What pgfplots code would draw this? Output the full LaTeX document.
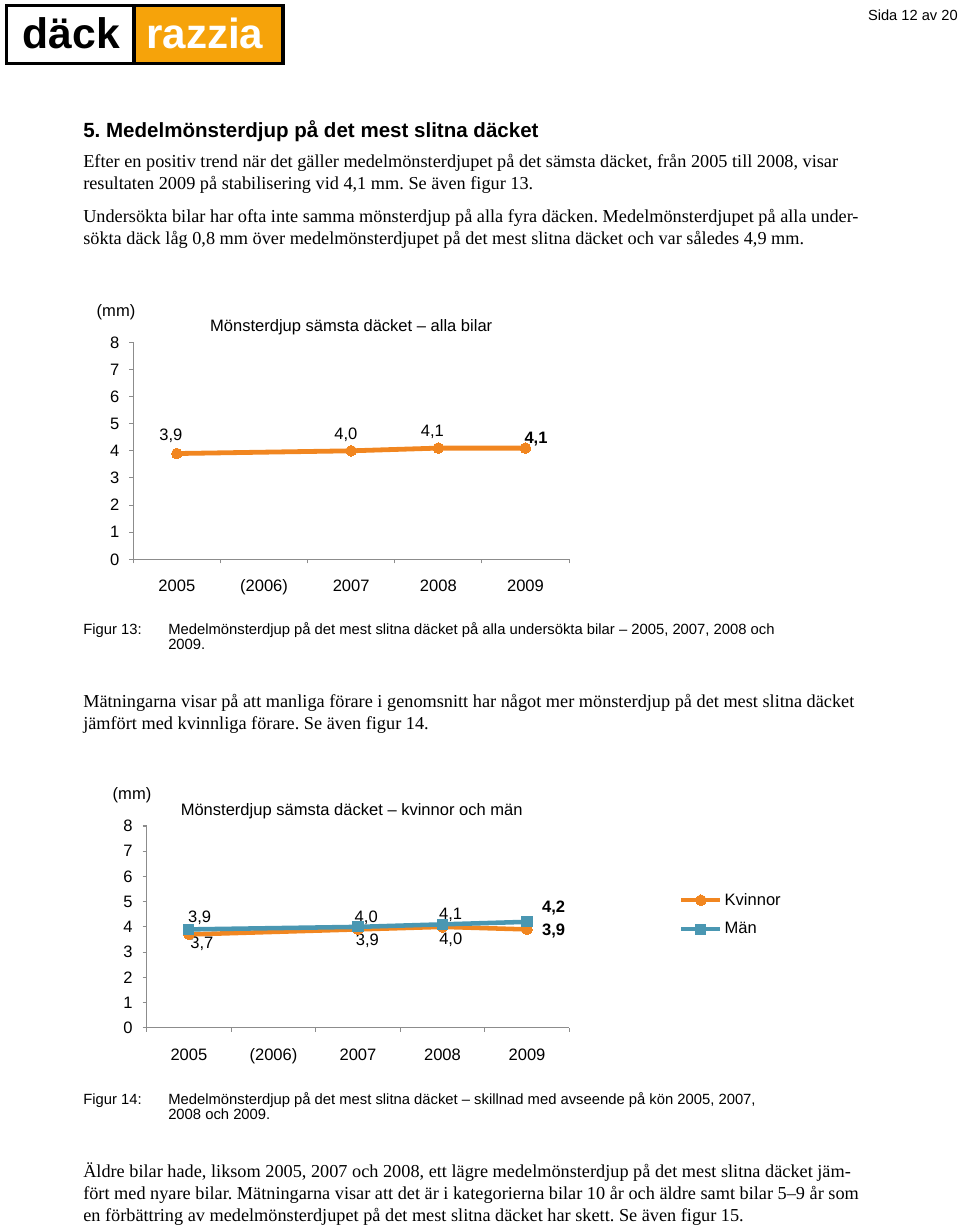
\documentclass[border=0pt]{standalone}
\usepackage{pgfplots}
\pgfplotsset{compat=1.18}
\usepackage{fontspec}
\setmainfont{Liberation Serif}
\newfontfamily\sans{Liberation Sans}
\frenchspacing
\definecolor{lineor}{RGB}{241,134,32}
\definecolor{lineblue}{RGB}{74,151,178}
\definecolor{logoor}{RGB}{246,163,10}
\definecolor{axgray}{RGB}{140,140,140}
\newcommand\chartfont{\sans\fontsize{12.4}{14}\selectfont}
\newcommand\bodyfont{\fontsize{13.7}{16.5}\selectfont}
\newcommand\capfont{\sans\fontsize{11.1}{13}\selectfont}
\pgfplotsset{
  mychart/.style={
    scale only axis,
    xmin=-0.5, xmax=4.5, ymin=0, ymax=8,
    axis x line=bottom, axis y line=left,
    axis line style={-, axgray, line width=0.8pt},
    ytick={0,...,8},
    xtick={-0.5,0.5,...,4.5},
    x tick label as interval,
    xticklabels={2005,(2006),2007,2008,2009},
    tick align=outside,
    major tick length=3pt,
    tick style={axgray, line width=0.8pt},
    ticklabel style={font=\chartfont},
    /pgf/number format/assume math mode=true,
    xticklabel style={anchor=base, yshift=-21.5pt},
    yticklabel style={anchor=center, xshift=-11pt},
    clip=false,
  },
}
\tikzset{lab/.style={font=\chartfont, inner sep=0pt, anchor=center}}
\begin{document}
\begin{tikzpicture}
\begin{scope}[x=0.75pt,y=-0.75pt]
\path[use as bounding box] (0,0) rectangle (960,1225);
% logo
\fill[black] (4.5,3.5) rectangle (285,65);
\fill[white] (8,7) rectangle (131.5,61.5);
\fill[logoor] (135.5,7) rectangle (280.5,61.5);
\node[anchor=base west, inner sep=0pt, font=\sans\bfseries\fontsize{32}{36}\selectfont] at (22.5,48.5) {däck};
\node[anchor=base west, inner sep=0pt, text=white, font=\sans\bfseries\fontsize{31.6}{36}\selectfont] at (146,48.5) {razzia};
\node[anchor=base east, inner sep=0pt, font=\sans\fontsize{11}{13}\selectfont] at (958,20) {Sida 12 av 20};
% heading
\node[anchor=base west, inner sep=0pt, font=\sans\bfseries\fontsize{15.4}{18}\selectfont] at (83,137) {5. Medelmönsterdjup på det mest slitna däcket};
% body text
\begin{scope}[every node/.style={anchor=base west, inner sep=0pt, font=\bodyfont}]
\node at (83,167) {Efter en positiv trend när det gäller medelmönsterdjupet på det sämsta däcket, från 2005 till 2008, visar};
\node at (83,189) {resultaten 2009 på stabilisering vid 4,1 mm. Se även figur 13.};
\node at (83,222) {Undersökta bilar har ofta inte samma mönsterdjup på alla fyra däcken. Medelmönsterdjupet på alla under-};
\node at (83,244) {sökta däck låg 0,8 mm över medelmönsterdjupet på det mest slitna däcket och var således 4,9 mm.};
\node at (83,707) {Mätningarna visar på att manliga förare i genomsnitt har något mer mönsterdjup på det mest slitna däcket};
\node at (83,729) {jämfört med kvinnliga förare. Se även figur 14.};
\node at (83,1177) {Äldre bilar hade, liksom 2005, 2007 och 2008, ett lägre medelmönsterdjup på det mest slitna däcket jäm-};
\node at (83,1199) {fört med nyare bilar. Mätningarna visar att det är i kategorierna bilar 10 år och äldre samt bilar 5–9 år som};
\node at (83,1221) {en förbättring av medelmönsterdjupet på det mest slitna däcket har skett. Se även figur 15.};
\end{scope}
% captions
\begin{scope}[every node/.style={anchor=base west, inner sep=0pt, font=\capfont}]
\node at (83,634) {Figur 13:};
\node at (168,634) {Medelmönsterdjup på det mest slitna däcket på alla undersökta bilar – 2005, 2007, 2008 och};
\node at (168,649.5) {2009.};
\node at (83,1104) {Figur 14:};
\node at (168,1104) {Medelmönsterdjup på det mest slitna däcket – skillnad med avseende på kön 2005, 2007,};
\node at (168,1119.5) {2008 och 2009.};
\end{scope}
% chart titles
\node[anchor=base, inner sep=0pt, font=\chartfont] at (116,316) {(mm)};
\node[anchor=base, inner sep=0pt, font=\chartfont] at (351.2,331) {Mönsterdjup sämsta däcket – alla bilar};
\node[anchor=base, inner sep=0pt, font=\chartfont] at (132,799) {(mm)};
\node[anchor=base, inner sep=0pt, font=\chartfont] at (351.7,815) {Mönsterdjup sämsta däcket – kvinnor och män};
\end{scope}

% chart 1
\begin{axis}[mychart, at={(99.98pt,-419.48pt)}, anchor=south west, width=326.8pt, height=162.75pt]
\addplot[color=lineor, line width=3.6pt, mark=*, mark size=4pt, mark options={solid, fill=lineor, draw=lineor, line width=0pt}]
  coordinates {(0,3.9) (2,4.0) (3,4.1) (4,4.1)};
\node[lab, xshift=-4.5pt, yshift=13.1pt] at (axis cs:0,3.9) {3,9};
\node[lab, xshift=-4.0pt, yshift=12pt] at (axis cs:2,4.0) {4,0};
\node[lab, xshift=-4.5pt, yshift=12pt] at (axis cs:3,4.1) {4,1};
\node[lab, font=\chartfont\bfseries, xshift=7.9pt, yshift=7.1pt] at (axis cs:4,4.1) {4,1};
\end{axis}

% chart 2
\begin{axis}[mychart, at={(110.0pt,-770.8pt)}, anchor=south west, width=316.95pt, height=151.3pt,
  legend style={draw=none, fill=none, at={(1.25,0.561)}, anchor=west, font=\chartfont,
    row sep=8.5pt, nodes={inner sep=1.5pt}},
  legend cell align=left,
  legend image code/.code={\draw[mark repeat=2,mark phase=2,#1] plot coordinates {(0pt,0pt) (14.6pt,0pt) (29.2pt,0pt)};}]
\addplot[color=lineor, line width=3.4pt, mark=*, mark size=4pt, mark options={solid, fill=lineor, draw=lineor, line width=0pt}]
  coordinates {(0,3.7) (2,3.9) (3,4.0) (4,3.9)};
\addlegendentry{Kvinnor}
\addplot[color=lineblue, line width=3.4pt, mark=square*, mark size=3.8pt, mark options={solid, fill=lineblue, draw=lineblue, line width=0pt}]
  coordinates {(0,3.9) (2,4.0) (3,4.1) (4,4.2)};
\addlegendentry{Män}
\node[lab, xshift=8pt, yshift=8.9pt] at (axis cs:0,3.9) {3,9};
\node[lab, xshift=9.75pt, yshift=-7pt] at (axis cs:0,3.7) {3,7};
\node[lab, xshift=6.2pt, yshift=6.7pt] at (axis cs:2,4.0) {4,0};
\node[lab, xshift=7pt, yshift=-8.3pt] at (axis cs:2,3.9) {3,9};
\node[lab, xshift=6.1pt, yshift=7.4pt] at (axis cs:3,4.1) {4,1};
\node[lab, xshift=6.2pt, yshift=-9.5pt] at (axis cs:3,4.0) {4,0};
\node[lab, font=\chartfont\bfseries, xshift=20pt, yshift=10.5pt] at (axis cs:4,4.2) {4,2};
\node[lab, font=\chartfont\bfseries, xshift=20pt, yshift=-1pt] at (axis cs:4,3.9) {3,9};
\end{axis}
\end{tikzpicture}
\end{document}
